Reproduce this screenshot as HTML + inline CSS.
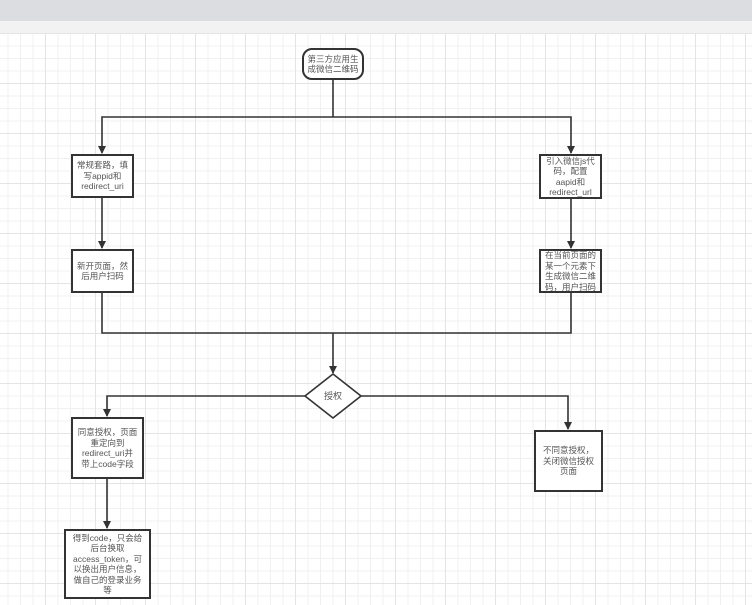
<!DOCTYPE html>
<html><head><meta charset="utf-8"><style>
body{margin:0;width:752px;height:605px;overflow:hidden;background:#fff;font-family:"Liberation Sans","Noto Sans CJK SC",sans-serif;}
.top{position:absolute;left:0;top:0;width:752px;height:21px;background:#dcdde0;}
.band{position:absolute;left:0;top:21px;width:752px;height:12px;background:#f2f2f3;}
.grid{position:absolute;left:0;top:33px;width:752px;height:572px;
background-image:linear-gradient(#e4e4e4 1px,transparent 1px),linear-gradient(90deg,#e4e4e4 1px,transparent 1px),linear-gradient(#f0f0f0 1px,transparent 1px),linear-gradient(90deg,#f0f0f0 1px,transparent 1px);
background-size:50px 50px,50px 50px,12.5px 12.5px,12.5px 12.5px;background-position:-5px 0,-5px 0,-5px 0,-5px 0;}
.b{position:absolute;border:2px solid #333;background:#fff;box-sizing:border-box;display:flex;align-items:center;justify-content:center;text-align:center;font-size:8.5px;line-height:10.5px;color:#555;padding:0;white-space:nowrap;}
</style></head><body>
<div class="top"></div><div class="band"></div><div class="grid"></div>
<svg width="752" height="605" style="position:absolute;left:0;top:0">
<defs><marker id="a" markerWidth="8" markerHeight="8" refX="7" refY="4" orient="auto" markerUnits="userSpaceOnUse"><path d="M0,0L8,4L0,8z" fill="#333"/></marker></defs>
<g stroke="#333" stroke-width="1.6" fill="none">
<path d="M333 80V117"/>
<path d="M333 117H102V153" marker-end="url(#a)"/>
<path d="M333 117H571V153" marker-end="url(#a)"/>
<path d="M102 197V248" marker-end="url(#a)"/>
<path d="M571 198V248" marker-end="url(#a)"/>
<path d="M102 292V333H571V293"/>
<path d="M333 333V373" marker-end="url(#a)"/>
<path d="M306 396H107V416" marker-end="url(#a)"/>
<path d="M361 396H568V429" marker-end="url(#a)"/>
<path d="M107 478V528" marker-end="url(#a)"/>
<path d="M333 374L361 396L333 418L305 396Z" fill="#fff"/>
</g>
<text x="333" y="399" font-size="9" fill="#555" text-anchor="middle" font-family="Liberation Sans,Noto Sans CJK SC,sans-serif">授权</text>
</svg>
<div class="b" style="left:302px;top:48px;width:62px;height:32px;border-radius:10px">第三方应用生<br>成微信二维码</div>
<div class="b" style="left:71px;top:154px;width:63px;height:44px">常规套路，填<br>写appid和<br>redirect_uri</div>
<div class="b" style="left:71px;top:249px;width:63px;height:44px">新开页面，然<br>后用户扫码</div>
<div class="b" style="left:539px;top:154px;width:63px;height:45px">引入微信js代<br>码，配置<br>aapid和<br>redirect_url</div>
<div class="b" style="left:539px;top:249px;width:63px;height:44px">在当前页面的<br>某一个元素下<br>生成微信二维<br>码，用户扫码</div>
<div class="b" style="left:71px;top:417px;width:73px;height:62px">同意授权，页面<br>重定向到<br>redirect_uri并<br>带上code字段</div>
<div class="b" style="left:64px;top:529px;width:87px;height:70px">得到code，只会给<br>后台换取<br>access_token，可<br>以换出用户信息，<br>做自己的登录业务<br>等</div>
<div class="b" style="left:534px;top:430px;width:69px;height:62px">不同意授权，<br>关闭微信授权<br>页面</div>
</body></html>
